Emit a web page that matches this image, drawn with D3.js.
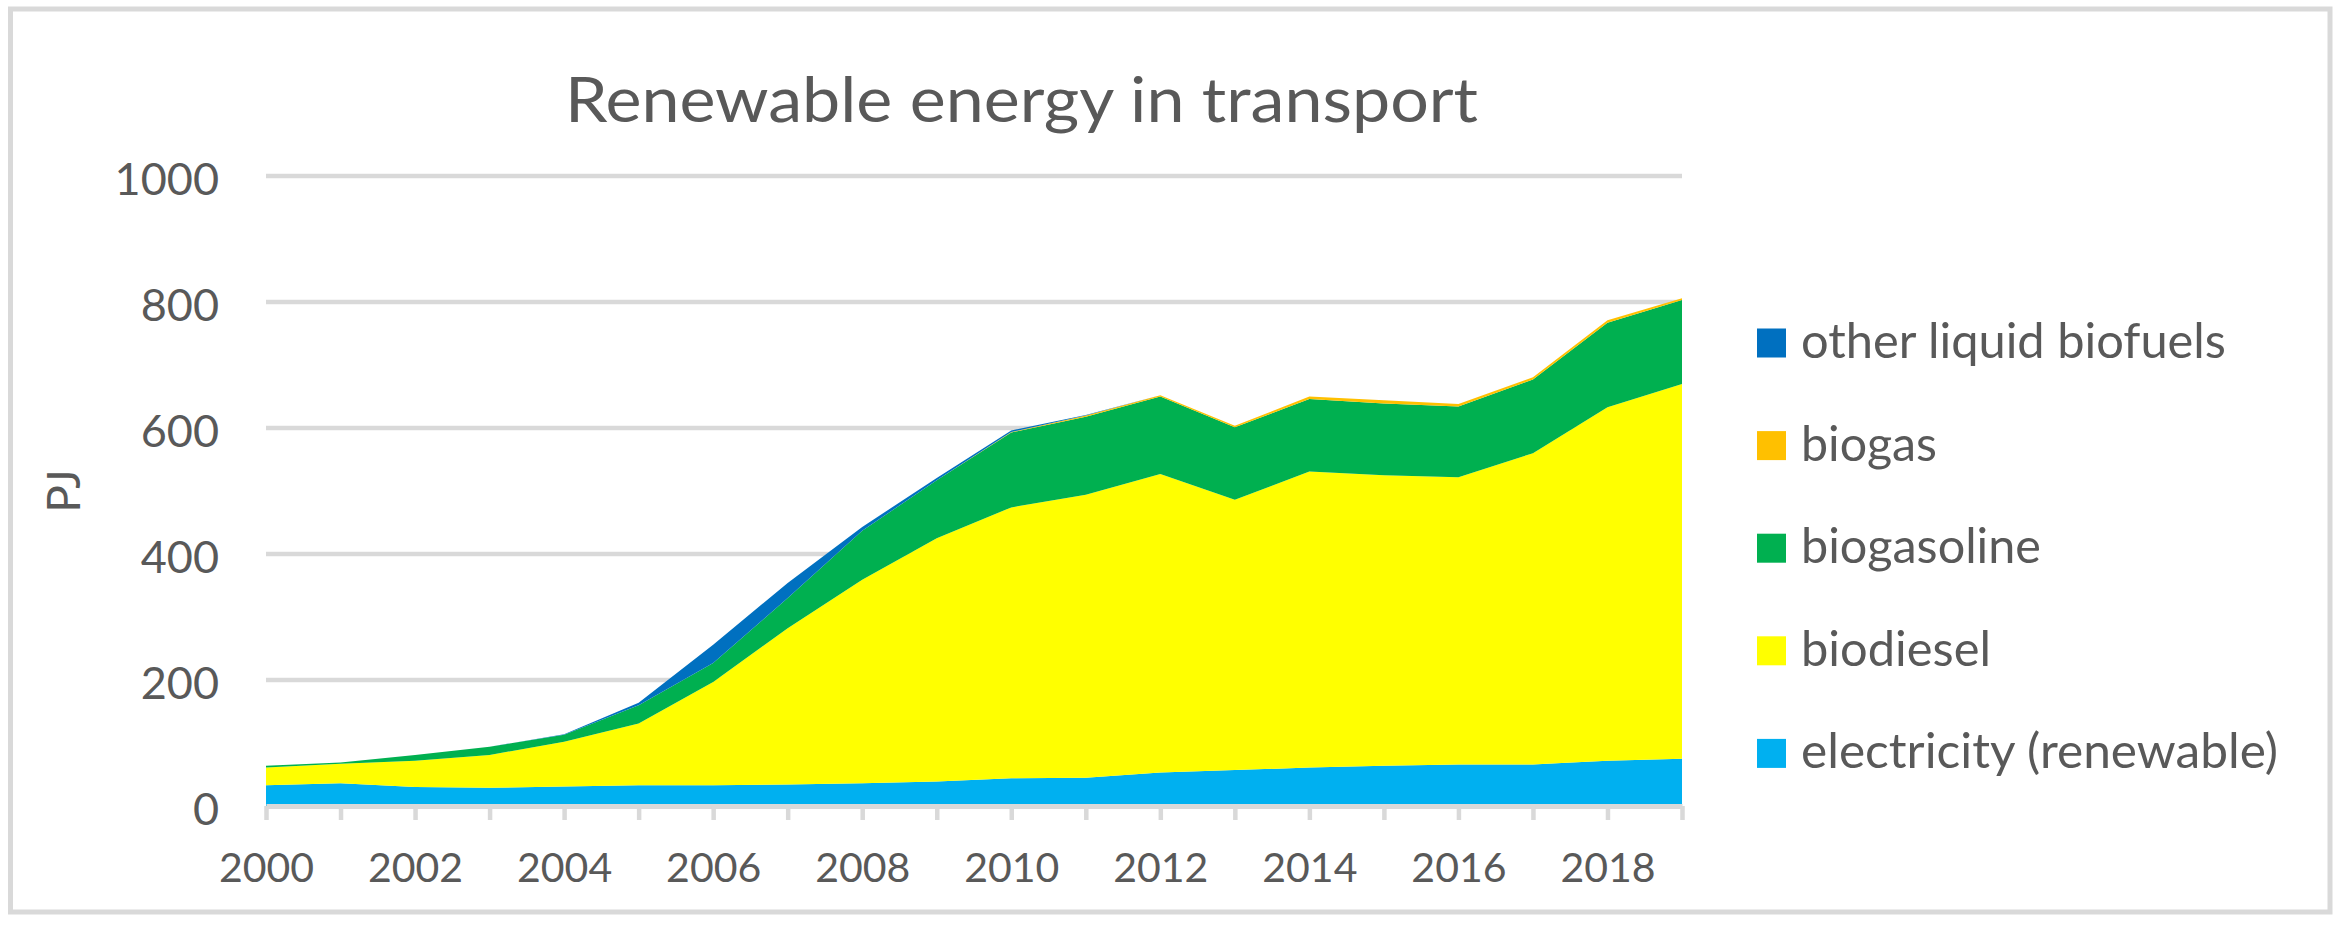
<!DOCTYPE html>
<html><head><meta charset="utf-8">
<script src="https://cdn.jsdelivr.net/npm/d3@7"></script>
<style>html,body{margin:0;padding:0;background:#fff;} svg{display:block;}</style>
</head><body>
<svg id="chart" width="2342" height="928"></svg>
<script>
// ---- data (PJ) ----
const years = [2000,2001,2002,2003,2004,2005,2006,2007,2008,2009,2010,2011,2012,2013,2014,2015,2016,2017,2018,2019];
const electricity = [33,36,30,29,31,33,33,34,36,39,44,45,53,57,61,64,66,66,72,75];
const biodiesel   = [28,31,42,52,71,98,164,248,323,386,430,449,474,429,470,461,456,494,561,595];
const biogasoline = [3,2,9,13,11,29,30,48,78,92,119,124,123,115,115,114,112,117,134,133];
const biogas      = [0,0,0,0,0,0,0,0,0,0,0.5,2,2,2.5,4,5,4,3.5,4,3];
const otherLiquid = [0,0,0,0,1,4,29,24,6,3.5,2.5,0.5,0,0,0,0,0,0,0,0];
const seriesKeys  = ["electricity (renewable)","biodiesel","biogasoline","biogas","other liquid biofuels"];
const seriesColors = ["#00B0F0","#FFFF00","#00B050","#FFC000","#0070C0"];
const yTicks = [0,200,400,600,800,1000];
const xTickLabels = [2000,2002,2004,2006,2008,2010,2012,2014,2016,2018];
const titleText = "Renewable energy in transport";
const yAxisTitle = "PJ";

const table = years.map((yr,i)=>({
  year: yr,
  "electricity (renewable)": electricity[i],
  "biodiesel": biodiesel[i],
  "biogasoline": biogasoline[i],
  "biogas": biogas[i],
  "other liquid biofuels": otherLiquid[i]
}));

const svg = d3.select("#chart");
const textColor = "#595959";
const gridColor = "#D9D9D9";
const font = "Lato, 'Open Sans', sans-serif";

// chart border
svg.append("rect").attr("x",10.5).attr("y",9).attr("width",2319.5).attr("height",903)
  .attr("fill","#fff").attr("stroke",gridColor).attr("stroke-width",5);

const x = d3.scaleLinear().domain([2000,2019]).range([266,1682]);
const y = d3.scaleLinear().domain([0,1000]).range([806,176]);

// gridlines
svg.append("g").selectAll("line").data(yTicks.filter(d=>d>0)).join("line")
  .attr("x1",x(2000)).attr("x2",x(2019))
  .attr("y1",d=>y(d)).attr("y2",d=>y(d))
  .attr("stroke",gridColor).attr("stroke-width",4.5);

// stacked areas
const color = d3.scaleOrdinal().domain(seriesKeys).range(seriesColors);
const stacked = d3.stack().keys(seriesKeys)(table);
const area = d3.area().x(d=>x(d.data.year)).y0(d=>y(d[0])).y1(d=>y(d[1]));
svg.append("g").selectAll("path").data(stacked).join("path")
  .attr("d",area).attr("fill",d=>color(d.key));

// x axis
const xAxis = d3.axisBottom(x).tickValues(years).tickSize(14).tickSizeOuter(0)
  .tickFormat(d=> xTickLabels.includes(d) ? String(d) : "");
const gx = svg.append("g").attr("transform",`translate(0,${y(0)})`).call(xAxis);
gx.select(".domain").attr("stroke",gridColor).attr("stroke-width",5);
gx.selectAll(".tick line").attr("stroke",gridColor).attr("stroke-width",4.5);
gx.selectAll(".tick text").attr("y",75.5).attr("dy",null)
  .attr("fill",textColor).style("font-family",font).style("font-size","41px");

// y axis labels
const yAxis = d3.axisLeft(y).tickValues(yTicks).tickSize(0).tickPadding(47).tickFormat(d=>String(d));
const gy = svg.append("g").attr("transform",`translate(${x(2000)},0)`).call(yAxis);
gy.select(".domain").remove();
gy.selectAll(".tick text").attr("dy",null).attr("y",18)
  .attr("fill",textColor).style("font-family",font).style("font-size","45px");

// y axis title
svg.append("text").attr("transform","translate(80,491) rotate(-90)")
  .attr("text-anchor","middle").attr("fill",textColor)
  .style("font-family",font).style("font-size","46px").text(yAxisTitle);

// title
svg.append("text").attr("x",565).attr("y",122).attr("fill",textColor)
  .attr("textLength",913).attr("lengthAdjust","spacingAndGlyphs")
  .style("font-family",font).style("font-weight","400").style("font-size","61px").text(titleText);

// legend (reverse order)
const legendItems = seriesKeys.slice().reverse();
const legendWidths = {"other liquid biofuels":425,"biogas":136,"biogasoline":240,"biodiesel":190,"electricity (renewable)":477};
const lg = svg.append("g").selectAll("g").data(legendItems).join("g")
  .attr("transform",(d,i)=>`translate(1757,${343 + i*102.6})`);
lg.append("rect").attr("x",0).attr("y",-14.5).attr("width",29).attr("height",29).attr("fill",d=>color(d));
lg.append("text").attr("x",44).attr("y",15).attr("fill",textColor)
  .attr("textLength",d=>legendWidths[d]).attr("lengthAdjust","spacingAndGlyphs")
  .style("font-family",font).style("font-size","48px").text(d=>d);
</script>
</body></html>
